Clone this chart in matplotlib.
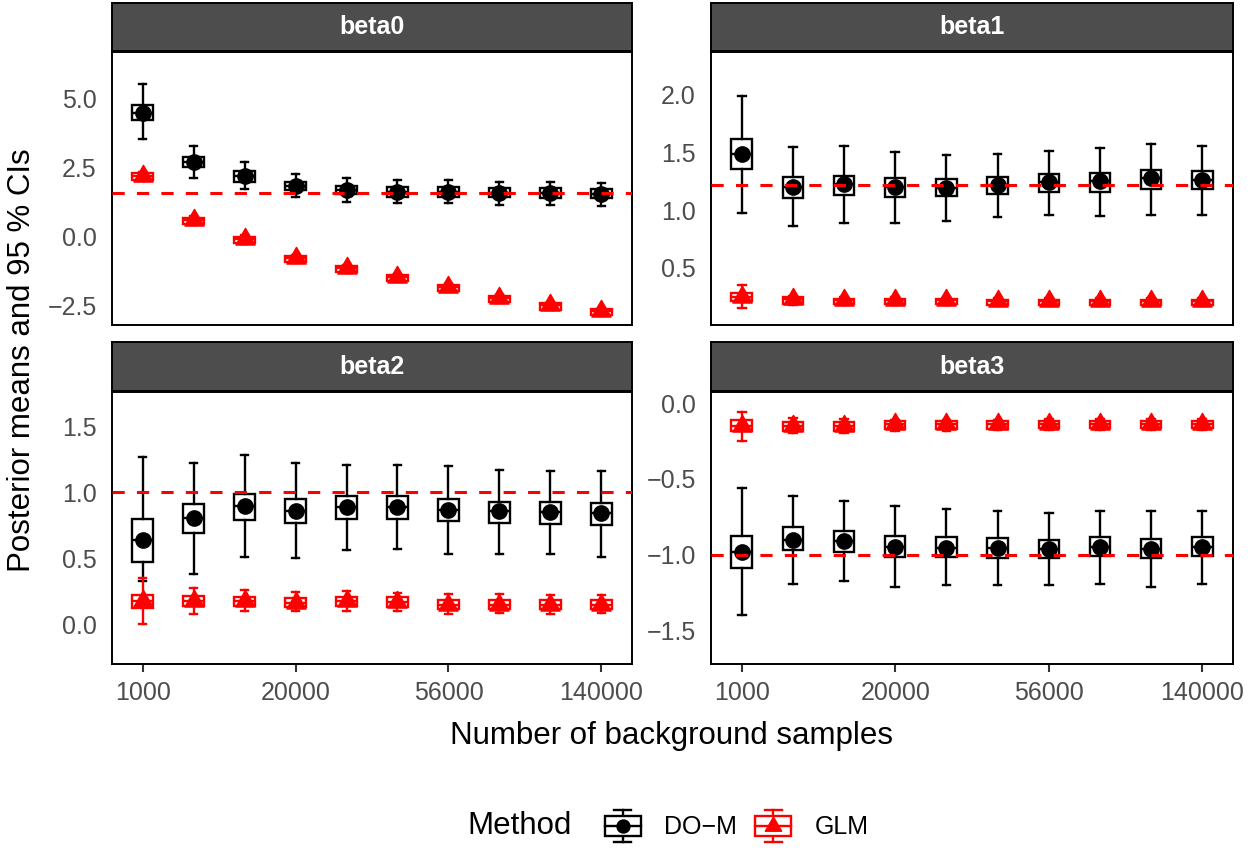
import matplotlib
matplotlib.use('Agg')
import matplotlib.pyplot as plt
from matplotlib.path import Path
from matplotlib.patches import Rectangle
from matplotlib.lines import Line2D
from matplotlib.legend_handler import HandlerBase

plt.rcParams['font.family'] = ['Liberation Sans', 'DejaVu Sans']

# background sample sizes (x categories) and the ones labelled on the axis
n_samples = ['1000', '5000', '10000', '20000', '30000', '42000', '56000', '80000', '110000', '140000']
tick_labels = ['1000', '20000', '56000', '140000']
params = ['beta0', 'beta1', 'beta2', 'beta3']
true_values = [1.58, 1.22, 1.0, -1.0]
methods = ['DO\u2212M', 'GLM']

# DO-M: posterior mean, box (q1, q3) and 95 % interval (lo, hi)
beta0_dom_mean = [4.50, 2.71, 2.21, 1.85, 1.70, 1.64, 1.64, 1.58, 1.58, 1.56]
beta0_dom_q1 = [4.24, 2.53, 2.00, 1.70, 1.56, 1.46, 1.46, 1.44, 1.40, 1.40]
beta0_dom_q3 = [4.78, 2.89, 2.40, 2.00, 1.85, 1.82, 1.80, 1.76, 1.76, 1.73]
beta0_dom_lo = [3.54, 2.15, 1.73, 1.44, 1.28, 1.23, 1.23, 1.16, 1.17, 1.13]
beta0_dom_hi = [5.53, 3.30, 2.72, 2.28, 2.13, 2.07, 2.05, 2.00, 1.99, 1.96]

beta1_dom_mean = [1.485, 1.205, 1.225, 1.205, 1.195, 1.22, 1.24, 1.25, 1.28, 1.26]
beta1_dom_q1 = [1.355, 1.11, 1.13, 1.115, 1.12, 1.14, 1.16, 1.16, 1.185, 1.18]
beta1_dom_q3 = [1.615, 1.29, 1.30, 1.275, 1.27, 1.29, 1.31, 1.32, 1.35, 1.34]
beta1_dom_lo = [0.98, 0.86, 0.89, 0.89, 0.91, 0.94, 0.96, 0.95, 0.96, 0.96]
beta1_dom_hi = [1.985, 1.546, 1.557, 1.50, 1.48, 1.49, 1.51, 1.54, 1.575, 1.56]

beta2_dom_mean = [0.64, 0.805, 0.90, 0.86, 0.89, 0.89, 0.87, 0.86, 0.85, 0.84]
beta2_dom_q1 = [0.47, 0.695, 0.79, 0.77, 0.80, 0.80, 0.78, 0.77, 0.76, 0.75]
beta2_dom_q3 = [0.795, 0.91, 0.99, 0.95, 0.97, 0.97, 0.95, 0.93, 0.93, 0.92]
beta2_dom_lo = [0.33, 0.38, 0.51, 0.50, 0.56, 0.57, 0.53, 0.53, 0.53, 0.51]
beta2_dom_hi = [1.27, 1.22, 1.28, 1.22, 1.21, 1.21, 1.20, 1.17, 1.16, 1.16]

beta3_dom_mean = [-0.98, -0.90, -0.91, -0.95, -0.955, -0.955, -0.96, -0.95, -0.96, -0.95]
beta3_dom_q1 = [-1.088, -0.97, -0.98, -1.015, -1.015, -1.02, -1.02, -1.01, -1.02, -1.01]
beta3_dom_q3 = [-0.876, -0.82, -0.84, -0.876, -0.88, -0.89, -0.90, -0.885, -0.895, -0.88]
beta3_dom_lo = [-1.40, -1.19, -1.17, -1.21, -1.20, -1.20, -1.20, -1.19, -1.21, -1.19]
beta3_dom_hi = [-0.56, -0.61, -0.645, -0.68, -0.70, -0.71, -0.725, -0.71, -0.71, -0.71]

# GLM
beta0_glm_mean = [2.22, 0.63, -0.06, -0.76, -1.12, -1.45, -1.81, -2.21, -2.48, -2.69]
beta0_glm_q1 = [2.06, 0.47, -0.21, -0.91, -1.27, -1.60, -1.96, -2.36, -2.63, -2.84]
beta0_glm_q3 = [2.30, 0.70, 0.01, -0.69, -1.05, -1.38, -1.74, -2.14, -2.41, -2.62]
beta0_glm_lo = [2.02, 0.44, -0.24, -0.94, -1.30, -1.63, -1.99, -2.39, -2.66, -2.87]
beta0_glm_hi = [2.36, 0.75, 0.06, -0.64, -1.00, -1.33, -1.69, -2.09, -2.36, -2.57]

beta1_glm_mean = [0.25, 0.23, 0.22, 0.22, 0.22, 0.21, 0.21, 0.21, 0.21, 0.21]
beta1_glm_q1 = [0.21, 0.19, 0.185, 0.185, 0.185, 0.18, 0.18, 0.18, 0.18, 0.18]
beta1_glm_q3 = [0.28, 0.245, 0.235, 0.235, 0.235, 0.225, 0.225, 0.225, 0.225, 0.225]
beta1_glm_lo = [0.15, 0.18, 0.175, 0.175, 0.175, 0.17, 0.17, 0.17, 0.17, 0.17]
beta1_glm_hi = [0.35, 0.26, 0.25, 0.25, 0.25, 0.24, 0.24, 0.24, 0.24, 0.24]

beta2_glm_mean = [0.175, 0.18, 0.175, 0.165, 0.175, 0.17, 0.15, 0.15, 0.15, 0.15]
beta2_glm_q1 = [0.125, 0.14, 0.14, 0.13, 0.14, 0.135, 0.12, 0.12, 0.12, 0.12]
beta2_glm_q3 = [0.22, 0.215, 0.21, 0.20, 0.21, 0.205, 0.185, 0.185, 0.185, 0.185]
beta2_glm_lo = [0.0, 0.08, 0.10, 0.10, 0.10, 0.10, 0.08, 0.085, 0.08, 0.085]
beta2_glm_hi = [0.35, 0.275, 0.26, 0.245, 0.25, 0.24, 0.23, 0.23, 0.225, 0.225]

beta3_glm_mean = [-0.15, -0.15, -0.15, -0.14, -0.14, -0.14, -0.135, -0.135, -0.135, -0.135]
beta3_glm_q1 = [-0.185, -0.185, -0.185, -0.17, -0.17, -0.17, -0.165, -0.165, -0.165, -0.165]
beta3_glm_q3 = [-0.11, -0.125, -0.125, -0.12, -0.12, -0.12, -0.115, -0.115, -0.115, -0.115]
beta3_glm_lo = [-0.25, -0.20, -0.20, -0.185, -0.185, -0.18, -0.175, -0.175, -0.175, -0.175]
beta3_glm_hi = [-0.057, -0.10, -0.105, -0.11, -0.11, -0.11, -0.105, -0.105, -0.105, -0.105]

dom = {
    'beta0': (beta0_dom_mean, beta0_dom_q1, beta0_dom_q3, beta0_dom_lo, beta0_dom_hi),
    'beta1': (beta1_dom_mean, beta1_dom_q1, beta1_dom_q3, beta1_dom_lo, beta1_dom_hi),
    'beta2': (beta2_dom_mean, beta2_dom_q1, beta2_dom_q3, beta2_dom_lo, beta2_dom_hi),
    'beta3': (beta3_dom_mean, beta3_dom_q1, beta3_dom_q3, beta3_dom_lo, beta3_dom_hi),
}
glm = {
    'beta0': (beta0_glm_mean, beta0_glm_q1, beta0_glm_q3, beta0_glm_lo, beta0_glm_hi),
    'beta1': (beta1_glm_mean, beta1_glm_q1, beta1_glm_q3, beta1_glm_lo, beta1_glm_hi),
    'beta2': (beta2_glm_mean, beta2_glm_q1, beta2_glm_q3, beta2_glm_lo, beta2_glm_hi),
    'beta3': (beta3_glm_mean, beta3_glm_q1, beta3_glm_q3, beta3_glm_lo, beta3_glm_hi),
}

ylims = {'beta0': (-3.19, 6.70), 'beta1': (0.006, 2.37), 'beta2': (-0.30, 1.76), 'beta3': (-1.72, 0.073)}
yticks = {'beta0': [-2.5, 0.0, 2.5, 5.0], 'beta1': [0.5, 1.0, 1.5, 2.0],
          'beta2': [0.0, 0.5, 1.0, 1.5], 'beta3': [-1.5, -1.0, -0.5, 0.0]}

# triangle centred on its circumcentre, like R's pch 17
TRIANGLE = Path([(0, 1), (-0.866, -0.5), (0.866, -0.5), (0, 1)],
                [Path.MOVETO, Path.LINETO, Path.LINETO, Path.CLOSEPOLY])
STYLES = [('black', 'o', 11), ('red', TRIANGLE, 16)]
LW = 1.7

W, H = 1257, 851
fig = plt.figure(figsize=(W / 100, H / 100), dpi=100)


def px_axes(left, top, right, bottom):
    return fig.add_axes([left / W, 1 - bottom / H, (right - left) / W, (bottom - top) / H])


def draw_method(ax, series, color, marker, ms, z):
    mean, q1, q3, lo, hi = series
    stats = [dict(med=m, q1=a, q3=b, whislo=l, whishi=h, mean=m, fliers=[])
             for m, a, b, l, h in zip(mean, q1, q3, lo, hi)]
    pos = list(range(1, len(n_samples) + 1))
    ax.bxp(stats, positions=pos, widths=0.4, capwidths=0.15, patch_artist=True,
           showmeans=True, showfliers=False, manage_ticks=False, zorder=z,
           boxprops=dict(facecolor='white', edgecolor=color, linewidth=LW),
           whiskerprops=dict(color=color, linewidth=LW),
           capprops=dict(color=color, linewidth=LW),
           medianprops=dict(color=color, linewidth=LW),
           meanprops=dict(marker=marker, markerfacecolor=color, markeredgecolor=color,
                          markersize=ms, linestyle='none'))


cols = [(112, 632), (711, 1233)]
rows = [(3, 51, 52, 325), (342, 391, 392, 664)]

for i, p in enumerate(params):
    r, c = divmod(i, 2)
    left, right = cols[c]
    s_top, s_bot, top, bot = rows[r]

    ax = px_axes(left, top, right, bot)
    draw_method(ax, dom[p], *STYLES[0], z=2)
    draw_method(ax, glm[p], *STYLES[1], z=3)
    ax.axhline(true_values[i], color='red', lw=2.2, linestyle=(0, (4, 4)), zorder=5)

    ax.set_xlim(0.4, len(n_samples) + 0.6)
    ax.set_ylim(*ylims[p])
    ax.set_yticks(yticks[p])
    ax.set_yticklabels([f'{t:.1f}'.replace('-', '\u2212') for t in yticks[p]])
    ax.tick_params(axis='y', length=0, pad=11, labelsize=18, labelcolor='#4D4D4D')
    if r == 1:
        ax.set_xticks([n_samples.index(t) + 1 for t in tick_labels])
        ax.set_xticklabels(tick_labels)
        ax.tick_params(axis='x', length=6, width=1.5, color='#333333', pad=6,
                       labelsize=18, labelcolor='#4D4D4D')
    else:
        ax.set_xticks([])
    for sp in ax.spines.values():
        sp.set_color('black')
        sp.set_linewidth(1.4)

    strip = px_axes(left, s_top, right, s_bot)
    strip.set_facecolor('#4D4D4D')
    strip.set_xticks([])
    strip.set_yticks([])
    for sp in strip.spines.values():
        sp.set_color('black')
        sp.set_linewidth(1.4)
    strip.text(0.5, 0.5, p, color='white', fontsize=18, fontweight='bold',
               ha='center', va='center', transform=strip.transAxes)

fig.text(672 / W, 1 - 736 / H, 'Number of background samples', fontsize=22.5,
         ha='center', va='center')
fig.text(22 / W, 1 - 360 / H, 'Posterior means and 95 % CIs', fontsize=22.5,
         rotation=90, ha='center', va='center')


# legend keys: errorbar + box + mean marker
class BoxKey:
    def __init__(self, color, marker, ms):
        self.color, self.marker, self.ms = color, marker, ms


class BoxKeyHandler(HandlerBase):
    def create_artists(self, legend, h, xd, yd, width, height, fontsize, trans):
        x0, y0 = -xd, -yd
        cx, cy = x0 + width / 2, y0 + height / 2
        bw, bh, cw = width * 0.95, height * 0.62, width * 0.45
        arts = [
            Line2D([cx, cx], [y0, y0 + height], color=h.color, lw=LW, transform=trans),
            Line2D([cx - cw / 2, cx + cw / 2], [y0, y0], color=h.color, lw=LW, transform=trans),
            Line2D([cx - cw / 2, cx + cw / 2], [y0 + height] * 2, color=h.color, lw=LW, transform=trans),
            Rectangle((cx - bw / 2, cy - bh / 2), bw, bh, facecolor='white', edgecolor=h.color,
                      lw=LW, transform=trans),
            Line2D([cx - bw / 2, cx + bw / 2], [cy, cy], color=h.color, lw=LW, transform=trans),
            Line2D([cx], [cy], marker=h.marker, color=h.color, markersize=h.ms * 0.85,
                   linestyle='none', transform=trans),
        ]
        return arts


keys = [BoxKey(*STYLES[0]), BoxKey(*STYLES[1])]
fig.text(467 / W, 1 - 826 / H, 'Method', fontsize=22.5, ha='left', va='center')
fig.legend(keys, methods, handler_map={BoxKey: BoxKeyHandler()},
           loc='center left', bbox_to_anchor=(604 / W, 1 - 826 / H), frameon=False,
           ncol=2, fontsize=18, handlelength=1.5, handleheight=1.6,
           handletextpad=0.9, columnspacing=0.7, borderpad=0, borderaxespad=0)

fig.savefig('out.png', dpi=100)
